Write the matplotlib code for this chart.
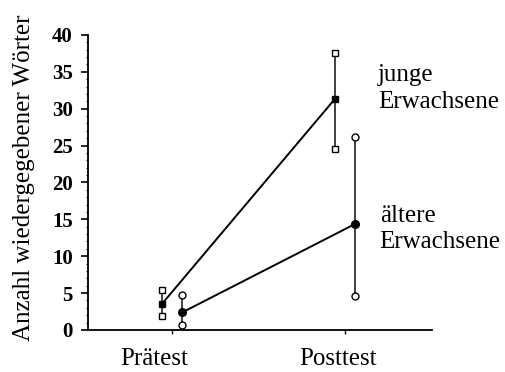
import numpy as np
import matplotlib.pyplot as plt
from matplotlib.ticker import MultipleLocator

# values
phases = ["Prätest", "Posttest"]
phase_x = [1, 2]

young_mean = [3.5, 31.3]
young_upper = [5.4, 37.6]
young_lower = [1.9, 24.6]

old_mean = [2.4, 14.4]
old_upper = [4.8, 26.2]
old_lower = [0.7, 4.6]

y_ticks = [0, 5, 10, 15, 20, 25, 30, 35, 40]

plt.rcParams['font.family'] = ['Liberation Serif', 'DejaVu Serif']

fig = plt.figure(figsize=(5.06, 3.72), dpi=100)
ax = fig.add_axes([0.174, 0.113, 0.68, 0.793])

x = np.array(phase_x, dtype=float)
xy = x - 0.06
xo = x + 0.06

# range bars
for xs, lo, hi in [(xy, young_lower, young_upper), (xo, old_lower, old_upper)]:
    for i in range(len(xs)):
        ax.plot([xs[i], xs[i]], [lo[i], hi[i]], color='#333333', lw=1.3, zorder=2)

# connecting lines
ax.plot(xy, young_mean, color='black', lw=1.4, zorder=3)
ax.plot(xo, old_mean, color='black', lw=1.4, zorder=3)

# end markers
ax.plot(xy, young_upper, 's', ms=4.5, mfc='white', mec='black', mew=1.0, ls='none', zorder=4)
ax.plot(xy, young_lower, 's', ms=4.5, mfc='white', mec='black', mew=1.0, ls='none', zorder=4)
ax.plot(xo, old_upper, 'o', ms=5, mfc='white', mec='black', mew=1.0, ls='none', zorder=4)
ax.plot(xo, old_lower, 'o', ms=5, mfc='white', mec='black', mew=1.0, ls='none', zorder=4)

# means
ax.plot(xy, young_mean, 's', ms=5, color='black', ls='none', zorder=5)
ax.plot(xo, old_mean, 'o', ms=5.5, color='black', ls='none', zorder=5)

ax.set_xlim(0.514, 2.503)
ax.set_ylim(0, 40)

for side in ['top', 'right']:
    ax.spines[side].set_visible(False)
for side in ['left', 'bottom']:
    ax.spines[side].set_linewidth(1.3)

ax.set_yticks(y_ticks)
ax.set_yticklabels([str(v) for v in y_ticks], fontweight='bold', fontsize=15)
ax.yaxis.set_minor_locator(MultipleLocator(1))
ax.tick_params(axis='y', which='major', direction='out', length=5, width=1.2, pad=6)
ax.tick_params(axis='y', which='minor', direction='out', length=1.5, width=0.8)

ax.set_xticks(phase_x)
ax.set_xticklabels([])
ax.tick_params(axis='x', direction='out', length=3, width=1.0)

# category labels sit a little left of the ticks
ax.text(0.895, -4.0, phases[0], ha='center', va='center', fontsize=18)
ax.text(1.96, -4.0, phases[1], ha='center', va='center', fontsize=18)

fig.text(24 / 506, 1 - 178 / 372, "Anzahl wiedergegebener Wörter", rotation=90,
         ha='center', va='center', fontsize=18)

ax.text(2.19, 36.0, "junge\nErwachsene", ha='left', va='top', fontsize=18, linespacing=1.25)
ax.text(2.2, 17.0, "ältere\nErwachsene", ha='left', va='top', fontsize=18, linespacing=1.25)

fig.savefig("out.png", dpi=100)
